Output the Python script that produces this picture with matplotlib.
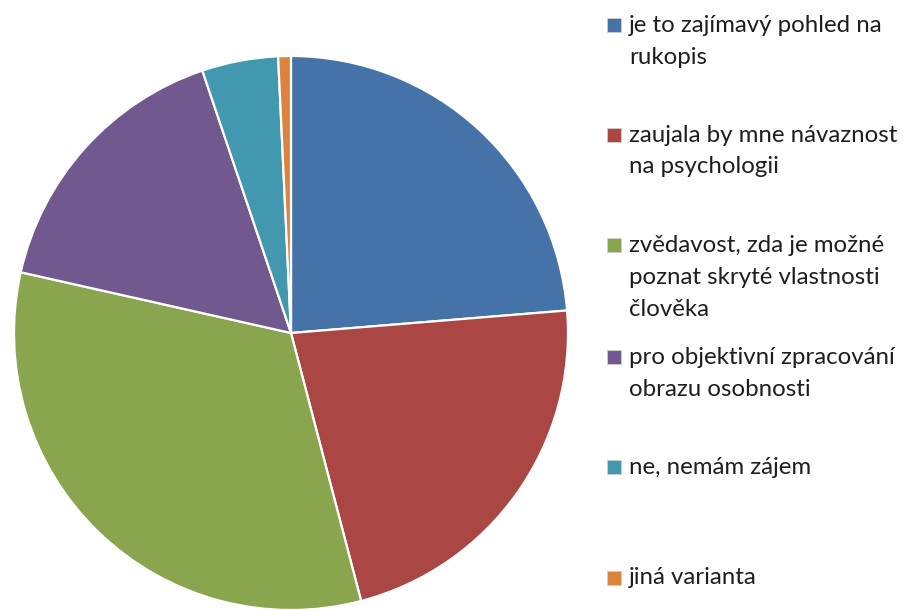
import matplotlib
matplotlib.use('Agg')
import matplotlib.pyplot as plt
from matplotlib.patches import Rectangle

# Survey answers (counts)
labels = [
    "je to zajímavý pohled na\nrukopis",
    "zaujala by mne návaznost\nna psychologii",
    "zvědavost, zda je možné\npoznat skryté vlastnosti\nčlověka",
    "pro objektivní zpracování\nobrazu osobnosti",
    "ne, nemám zájem",
    "jiná varianta",
]
counts = [32, 30, 44, 22, 6, 1]
colors = ["#4572A7", "#AA4643", "#89A54E", "#71588F", "#4198AF", "#DB843D"]

W, H = 904, 610
fig = plt.figure(figsize=(W / 100, H / 100), dpi=100)
fig.patch.set_facecolor('white')

# pie centre ~(291, 333) px, radius ~277 px
cx, cy, r = 291, 333, 277
ax = fig.add_axes([(cx - r) / W, 1 - (cy + r) / H, 2 * r / W, 2 * r / H])
ax.pie(counts, colors=colors, startangle=90, counterclock=False,
       radius=1.0,
       wedgeprops=dict(edgecolor='white', linewidth=1.6))
ax.set_xlim(-1.0, 1.0)
ax.set_ylim(-1.0, 1.0)
ax.set_aspect('equal')
ax.axis('off')

# legend drawn by hand so the wrapped labels sit like the original
first_line_y = [25, 135, 245, 357, 467, 578]
line_gap = 32
for lab, col, y0 in zip(labels, colors, first_line_y):
    fig.patches.append(Rectangle((607 / W, 1 - (y0 + 7) / H), 14 / W, 14 / H,
                                 transform=fig.transFigure, facecolor=col,
                                 edgecolor='#d0d0d0', linewidth=0.6))
    for i, line in enumerate(lab.split("\n")):
        fig.text(629 / W, 1 - (y0 + i * line_gap) / H, line,
                 ha='left', va='center', fontsize=17.3,
                 family=['Lato', 'DejaVu Sans'], color='#1e1e1e')

fig.savefig('out.png', dpi=100, facecolor='white')
